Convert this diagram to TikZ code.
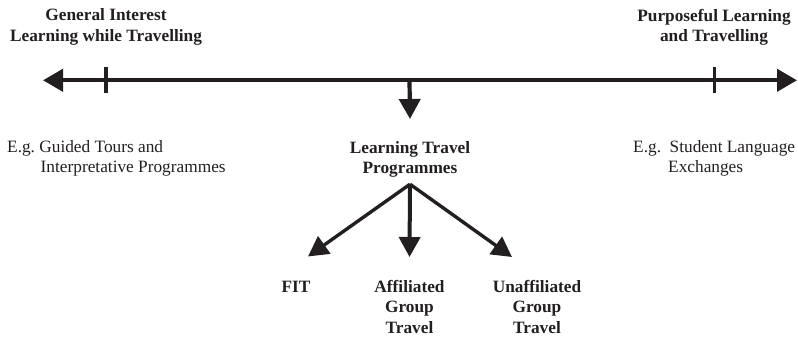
\documentclass[tikz,border=0pt]{standalone}
\usepackage{fontspec}
\setmainfont{Liberation Serif}
\usetikzlibrary{arrows.meta}
\definecolor{ink}{RGB}{35,31,32}
\begin{document}
\begin{tikzpicture}[x=1pt,y=-1pt,
  lbl/.style={inner sep=0pt, text=ink, font=\fontsize{17.3}{20.5}\selectfont},
  head/.style={lbl, font=\fontsize{17.3}{20.5}\selectfont\bfseries, align=center},
  axis/.style={draw=ink, line width=4.2pt},
  tickmark/.style={draw=ink, line width=3.6pt},
  fork/.style={draw=ink, line width=3.4pt, -{Triangle[length=20pt,width=21pt]}}
]
\useasboundingbox (0,0) rectangle (798,337);

% scale line with its two end arrows
\coordinate (axL) at (43,80.3);
\coordinate (axR) at (797,80.3);
\coordinate (axM) at (409.5,80.3);
\draw[axis, {Triangle[length=20pt,width=22pt]}-{Triangle[length=20pt,width=22pt]}] (axL) -- (axR);

% tick marks
\coordinate (tkL) at (106,80.3);
\coordinate (tkR) at (714.5,80.3);
\draw[tickmark] ([yshift=13pt]tkL) -- ([yshift=-13pt]tkL);
\draw[tickmark] ([yshift=13pt]tkR) -- ([yshift=-13pt]tkR);

% end labels
\node[head, anchor=north] (gen) at (106,8.7) {General Interest\\Learning while Travelling};
\node[head, anchor=north] (pur) at (714,8.7) {Purposeful Learning\\and Travelling};

% examples
\node[lbl, anchor=north west, align=left] (exL) at (7,140)
  {E.g.\ Guided Tours and\\\hspace*{33.5pt}Interpretative Programmes};
\node[lbl, anchor=north west, align=left] (exR) at (633,140)
  {E.g.\ \ Student Language\\\hspace*{35pt}Exchanges};

% central branch
\node[head, anchor=north] (ltp) at (410,141) {Learning Travel\\Programmes};
\draw[axis, -{Triangle[length=20pt,width=21pt]}] (axM) -- ([yshift=22pt]ltp.north);

\node[head, anchor=base] (fit) at (296,292) {FIT};
\node[head, anchor=north] (aff) at (409.5,280) {Affiliated\\Group\\Travel};
\node[head, anchor=north] (una) at (537,280) {Unaffiliated\\Group\\Travel};

\coordinate (split) at ([yshift=-6.5pt]ltp.south);
\draw[fork] (split) -- ([xshift=12pt,yshift=24pt]fit.north);
\draw[fork, line width=4pt] (split) -- ([yshift=23pt]aff.north);
\draw[fork] (split) -- ([xshift=-25pt,yshift=23pt]una.north);
\end{tikzpicture}
\end{document}
